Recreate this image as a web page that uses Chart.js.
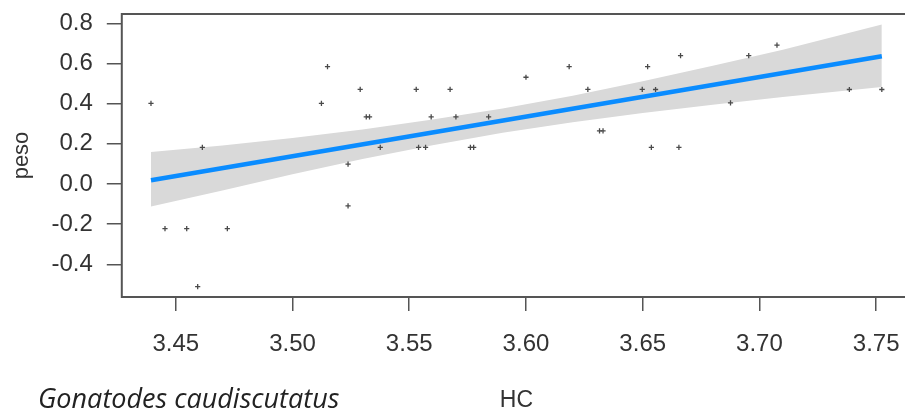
<!DOCTYPE html>
<html>
<head>
<meta charset="utf-8">
<script src="https://cdn.jsdelivr.net/npm/chart.js@4"></script>
<style>
  html, body { margin: 0; padding: 0; background: #fff; overflow: hidden; }
  #wrap { position: relative; width: 935px; height: 414px; }
</style>
</head>
<body>
<div id="wrap"><canvas id="c" width="935" height="414"></canvas></div>
<script>
// Observed specimens: head length (HC) vs weight (peso), log scale
const hcValues = [
  3.4394, 3.5124, 3.5150, 3.5290, 3.5316, 3.5330, 3.4614, 3.5376,
  3.5530, 3.5675, 3.6000, 3.6185, 3.6521, 3.6265, 3.6498, 3.5594,
  3.5700, 3.5840, 3.6315, 3.6330, 3.5540, 3.5570, 3.5762, 3.5776,
  3.6537, 3.6662, 3.6954, 3.7075, 3.6555, 3.7385, 3.7524, 3.6876,
  3.6655, 3.5238, 3.5238, 3.4454, 3.4547, 3.4721, 3.4594
];
const pesoValues = [
  0.402, 0.402, 0.585, 0.472, 0.334, 0.334, 0.182, 0.182,
  0.472, 0.472, 0.532, 0.585, 0.585, 0.472, 0.472, 0.334,
  0.334, 0.334, 0.265, 0.265, 0.182, 0.182, 0.182, 0.182,
  0.182, 0.640, 0.640, 0.692, 0.471, 0.471, 0.471, 0.404,
  0.182, 0.099, -0.109, -0.222, -0.222, -0.222, -0.511
];

// Fitted regression line (end points)
const fitHC = [3.4394, 3.7524];
const fitPeso = [0.019, 0.637];

// Confidence band edges
const bandHC    = [3.4394, 3.47, 3.50, 3.53, 3.56, 3.59, 3.62, 3.65, 3.68, 3.71, 3.7524];
const bandLower = [-0.112, -0.032, 0.049, 0.124, 0.193, 0.256, 0.308, 0.354, 0.395, 0.433, 0.484];
const bandUpper = [0.160, 0.192, 0.229, 0.272, 0.321, 0.376, 0.440, 0.512, 0.589, 0.669, 0.795];

// Axis ticks and limits
const xTicks = [3.45, 3.50, 3.55, 3.60, 3.65, 3.70, 3.75];
const yTicks = [-0.4, -0.2, 0.0, 0.2, 0.4, 0.6, 0.8];
const xLimits = [3.4269, 3.7649];
const yLimits = [-0.5632, 0.8472];

const speciesName = 'Gonatodes caudiscutatus';

const pairs = (xs, ys) => xs.map((x, i) => ({ x, y: ys[i] }));

const axisFont = { family: "'Liberation Sans', Arial, sans-serif", size: 24 };
const inkColor = '#333';

// Closed box around the plotting region
const framePlugin = {
  id: 'frame',
  afterDatasetsDraw(chart) {
    const { ctx, chartArea: a } = chart;
    ctx.save();
    ctx.strokeStyle = '#555';
    ctx.lineWidth = 2;
    ctx.strokeRect(a.left, a.top, a.right - a.left, a.bottom - a.top);
    ctx.restore();
  }
};

// Species caption in the lower left corner
const captionPlugin = {
  id: 'caption',
  afterDraw(chart) {
    const { ctx } = chart;
    ctx.save();
    ctx.font = "italic 27px 'Open Sans', sans-serif";
    ctx.fillStyle = '#222';
    ctx.textAlign = 'left';
    ctx.textBaseline = 'alphabetic';
    ctx.fillText(speciesName, 38, 408);
    ctx.restore();
  }
};

new Chart(document.getElementById('c'), {
  type: 'scatter',
  data: {
    datasets: [
      {
        type: 'line',
        data: pairs(fitHC, fitPeso),
        borderColor: '#0a8cff',
        borderWidth: 4.5,
        pointRadius: 0,
        fill: false,
        order: 1
      },
      {
        type: 'line',
        data: pairs(bandHC, bandLower),
        borderWidth: 0,
        borderColor: 'rgba(0,0,0,0)',
        pointRadius: 0,
        fill: false,
        order: 3
      },
      {
        type: 'line',
        data: pairs(bandHC, bandUpper),
        borderWidth: 0,
        borderColor: 'rgba(0,0,0,0)',
        backgroundColor: '#d9d9d9',
        pointRadius: 0,
        fill: '-1',
        order: 2
      },
      {
        data: pairs(hcValues, pesoValues),
        pointStyle: 'cross',
        pointRadius: 2.6,
        borderColor: '#4a4a4a',
        borderWidth: 1.3,
        order: 0
      }
    ]
  },
  plugins: [framePlugin, captionPlugin],
  options: {
    responsive: false,
    animation: false,
    devicePixelRatio: 1,
    layout: { padding: { top: 14, right: 24, bottom: 0, left: 0 } },
    plugins: { legend: { display: false }, tooltip: { enabled: false } },
    scales: {
      x: {
        type: 'linear',
        min: xLimits[0],
        max: xLimits[1],
        afterBuildTicks: s => { s.ticks = xTicks.map(v => ({ value: v })); },
        afterFit: s => { s.height = 117; s.paddingLeft = 0; s.paddingRight = 0; },
        ticks: {
          font: axisFont, color: inkColor, padding: 19,
          autoSkip: false, maxRotation: 0,
          callback: v => Number(v).toFixed(2)
        },
        grid: { drawOnChartArea: false, tickLength: 14, color: '#555', lineWidth: 1.5 },
        border: { display: false },
        title: {
          display: true, text: 'HC', color: inkColor,
          font: { family: axisFont.family, size: 23 },
          padding: { top: 0, bottom: 0 }
        }
      },
      y: {
        type: 'linear',
        min: yLimits[0],
        max: yLimits[1],
        afterBuildTicks: s => { s.ticks = yTicks.map(v => ({ value: v })); },
        afterFit: s => { s.width = 121.8; s.paddingTop = 0; s.paddingBottom = 0; },
        ticks: {
          font: axisFont, color: inkColor, padding: 14,
          callback: v => Number(v).toFixed(1)
        },
        grid: { drawOnChartArea: false, tickLength: 15, color: '#555', lineWidth: 1.5 },
        border: { display: false },
        title: {
          display: true, text: 'peso', color: inkColor,
          font: { family: axisFont.family, size: 22 },
          padding: { top: 9, bottom: 0 }
        }
      }
    }
  }
});
</script>
</body>
</html>
